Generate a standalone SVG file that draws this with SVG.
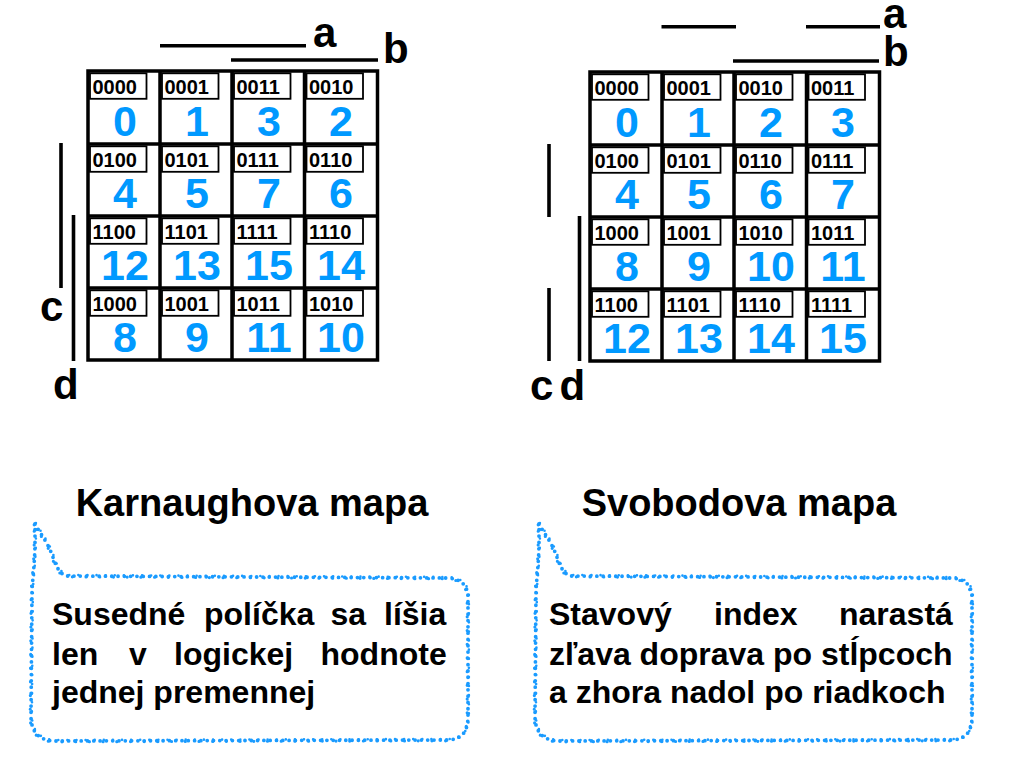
<svg xmlns="http://www.w3.org/2000/svg" xmlns:xlink="http://www.w3.org/1999/xlink" width="1020" height="759" viewBox="0 0 1020 759">
<style>
  .grid{fill:none;stroke:#000;stroke-width:3.5}
  .bl{fill:none;stroke:#000;stroke-width:1.8}
  .bin{font-family:"Liberation Sans",Arial,sans-serif;font-weight:bold;font-size:20px;fill:#000}
  .num{font-family:"Liberation Sans",Arial,sans-serif;font-weight:bold;font-size:43px;fill:#0099ff;text-anchor:middle}
  .bar{stroke:#000;stroke-width:3.6;fill:none}
  .var{font-family:"Liberation Sans",Arial,sans-serif;font-weight:bold;font-size:42px;fill:#000}
  .title{font-family:"Liberation Sans",Arial,sans-serif;font-weight:bold;font-size:38px;fill:#000;text-anchor:middle}
  .body{font-family:"Liberation Sans",Arial,sans-serif;font-weight:bold;font-size:32px;fill:#000}
  .dots1{fill:none;stroke:#1a9bff;stroke-width:3.8;stroke-linecap:round;stroke-dasharray:0 6.3}
  .dots2{fill:none;stroke:#1a9bff;stroke-width:2.6;stroke-linecap:round;stroke-dasharray:0 9.1}
  .dots3{fill:none;stroke:#1a9bff;stroke-width:3.2;stroke-linecap:round;stroke-dasharray:0 13.7}
</style>
<defs>
  <g id="cellbox"><rect x="2" y="2.3" width="56.5" height="25.5" class="bl"/></g>
  <g id="gridlines">
    <rect x="0" y="0" width="289.5" height="289" class="grid"/>
    <line x1="72" y1="0" x2="72" y2="289" class="grid"/>
    <line x1="144" y1="0" x2="144" y2="289" class="grid"/>
    <line x1="216.5" y1="0" x2="216.5" y2="289" class="grid"/>
    <line x1="0" y1="73" x2="289.5" y2="73" class="grid"/>
    <line x1="0" y1="145" x2="289.5" y2="145" class="grid"/>
    <line x1="0" y1="217" x2="289.5" y2="217" class="grid"/>
    <use xlink:href="#cellbox" x="0" y="0"/><use xlink:href="#cellbox" x="72" y="0"/><use xlink:href="#cellbox" x="144" y="0"/><use xlink:href="#cellbox" x="216.5" y="0"/>
    <use xlink:href="#cellbox" x="0" y="73"/><use xlink:href="#cellbox" x="72" y="73"/><use xlink:href="#cellbox" x="144" y="73"/><use xlink:href="#cellbox" x="216.5" y="73"/>
    <use xlink:href="#cellbox" x="0" y="145"/><use xlink:href="#cellbox" x="72" y="145"/><use xlink:href="#cellbox" x="144" y="145"/><use xlink:href="#cellbox" x="216.5" y="145"/>
    <use xlink:href="#cellbox" x="0" y="217"/><use xlink:href="#cellbox" x="72" y="217"/><use xlink:href="#cellbox" x="144" y="217"/><use xlink:href="#cellbox" x="216.5" y="217"/>
  </g>
  <path id="bubble" d="M35,524 C40,533 47,542 51,552 C55,562 57,572 66,576 L448,578 C462,579 468,586 468,598 L468,716 C468,732 462,739 448,740 L56,741 C40,741 31,733 31,716 L32,590 C33,575 35,560 35,540 Z"/>
</defs>

<!-- Karnaugh map -->
<g id="karnaugh-map">
  <g transform="translate(88,71)">
    <use xlink:href="#gridlines"/>
    <g class="bin">
      <text x="4.5" y="22.5">0000</text><text x="76.5" y="22.5">0001</text><text x="148.5" y="22.5">0011</text><text x="221" y="22.5">0010</text>
      <text x="4.5" y="95.5">0100</text><text x="76.5" y="95.5">0101</text><text x="148.5" y="95.5">0111</text><text x="221" y="95.5">0110</text>
      <text x="4.5" y="167.5">1100</text><text x="76.5" y="167.5">1101</text><text x="148.5" y="167.5">1111</text><text x="221" y="167.5">1110</text>
      <text x="4.5" y="239.5">1000</text><text x="76.5" y="239.5">1001</text><text x="148.5" y="239.5">1011</text><text x="221" y="239.5">1010</text>
    </g>
    <g class="num">
      <text x="37" y="64.5">0</text><text x="109" y="64.5">1</text><text x="181" y="64.5">3</text><text x="253" y="64.5">2</text>
      <text x="37" y="137">4</text><text x="109" y="137">5</text><text x="181" y="137">7</text><text x="253" y="137">6</text>
      <text x="37" y="209">12</text><text x="109" y="209">13</text><text x="181" y="209">15</text><text x="253" y="209">14</text>
      <text x="37" y="281">8</text><text x="109" y="281">9</text><text x="181" y="281">11</text><text x="253" y="281">10</text>
    </g>
  </g>
  <line x1="160" y1="45.7" x2="306" y2="45.7" class="bar"/>
  <line x1="231" y1="60" x2="378" y2="60" class="bar"/>
  <line x1="61" y1="143" x2="61" y2="288" class="bar"/>
  <line x1="73.5" y1="215" x2="73.5" y2="361" class="bar"/>
  <text x="313" y="47" class="var">a</text>
  <text x="383" y="62.5" class="var">b</text>
  <text x="40" y="321" class="var">c</text>
  <text x="53" y="399" class="var">d</text>
  <text x="252" y="516" class="title">Karnaughova mapa</text>
</g>

<!-- Svoboda map -->
<g id="svoboda-map">
  <g transform="translate(590,72)">
    <use xlink:href="#gridlines"/>
    <g class="bin">
      <text x="4.5" y="22.5">0000</text><text x="76.5" y="22.5">0001</text><text x="148.5" y="22.5">0010</text><text x="221" y="22.5">0011</text>
      <text x="4.5" y="95.5">0100</text><text x="76.5" y="95.5">0101</text><text x="148.5" y="95.5">0110</text><text x="221" y="95.5">0111</text>
      <text x="4.5" y="167.5">1000</text><text x="76.5" y="167.5">1001</text><text x="148.5" y="167.5">1010</text><text x="221" y="167.5">1011</text>
      <text x="4.5" y="239.5">1100</text><text x="76.5" y="239.5">1101</text><text x="148.5" y="239.5">1110</text><text x="221" y="239.5">1111</text>
    </g>
    <g class="num">
      <text x="37" y="64.5">0</text><text x="109" y="64.5">1</text><text x="181" y="64.5">2</text><text x="253" y="64.5">3</text>
      <text x="37" y="137">4</text><text x="109" y="137">5</text><text x="181" y="137">6</text><text x="253" y="137">7</text>
      <text x="37" y="209">8</text><text x="109" y="209">9</text><text x="181" y="209">10</text><text x="253" y="209">11</text>
      <text x="37" y="281">12</text><text x="109" y="281">13</text><text x="181" y="281">14</text><text x="253" y="281">15</text>
    </g>
  </g>
  <line x1="661.5" y1="26.7" x2="736" y2="26.7" class="bar"/>
  <line x1="806" y1="26.7" x2="880" y2="26.7" class="bar"/>
  <line x1="733" y1="61" x2="879" y2="61" class="bar"/>
  <line x1="549" y1="144" x2="549" y2="217" class="bar"/>
  <line x1="549" y1="288" x2="549" y2="361" class="bar"/>
  <line x1="579.5" y1="216" x2="579.5" y2="361" class="bar"/>
  <text x="883" y="28" class="var">a</text>
  <text x="883" y="65.5" class="var">b</text>
  <text x="530" y="400" class="var">c</text>
  <text x="559.5" y="400" class="var">d</text>
  <text x="739" y="516" class="title">Svobodova mapa</text>
</g>

<!-- Left callout -->
<g id="callout-karnaugh">
  <use xlink:href="#bubble" class="dots1"/>
  <use xlink:href="#bubble" class="dots2" transform="translate(0.9,-1)"/>
  <use xlink:href="#bubble" class="dots3" transform="translate(-0.8,0.8)"/>
  <g class="body">
    <text x="52" y="625">Susedné</text><text x="204" y="625">políčka</text><text x="330.5" y="625">sa</text><text x="384" y="625">líšia</text>
    <text x="52" y="665">len</text><text x="129" y="665">v</text><text x="174" y="665">logickej</text><text x="320.5" y="665">hodnote</text>
    <text x="52" y="703">jednej premennej</text>
  </g>
</g>

<!-- Right callout -->
<g id="callout-svoboda">
  <use xlink:href="#bubble" class="dots1" transform="translate(504,0)"/>
  <use xlink:href="#bubble" class="dots2" transform="translate(504.9,-1)"/>
  <use xlink:href="#bubble" class="dots3" transform="translate(503.2,0.8)"/>
  <g class="body">
    <text x="549" y="625">Stavový</text><text x="714" y="625">index</text><text x="839" y="625">narastá</text>
    <text x="549" y="665">zľava doprava po stĺpcoch</text>
    <text x="549" y="703">a zhora nadol po riadkoch</text>
  </g>
</g>
</svg>
